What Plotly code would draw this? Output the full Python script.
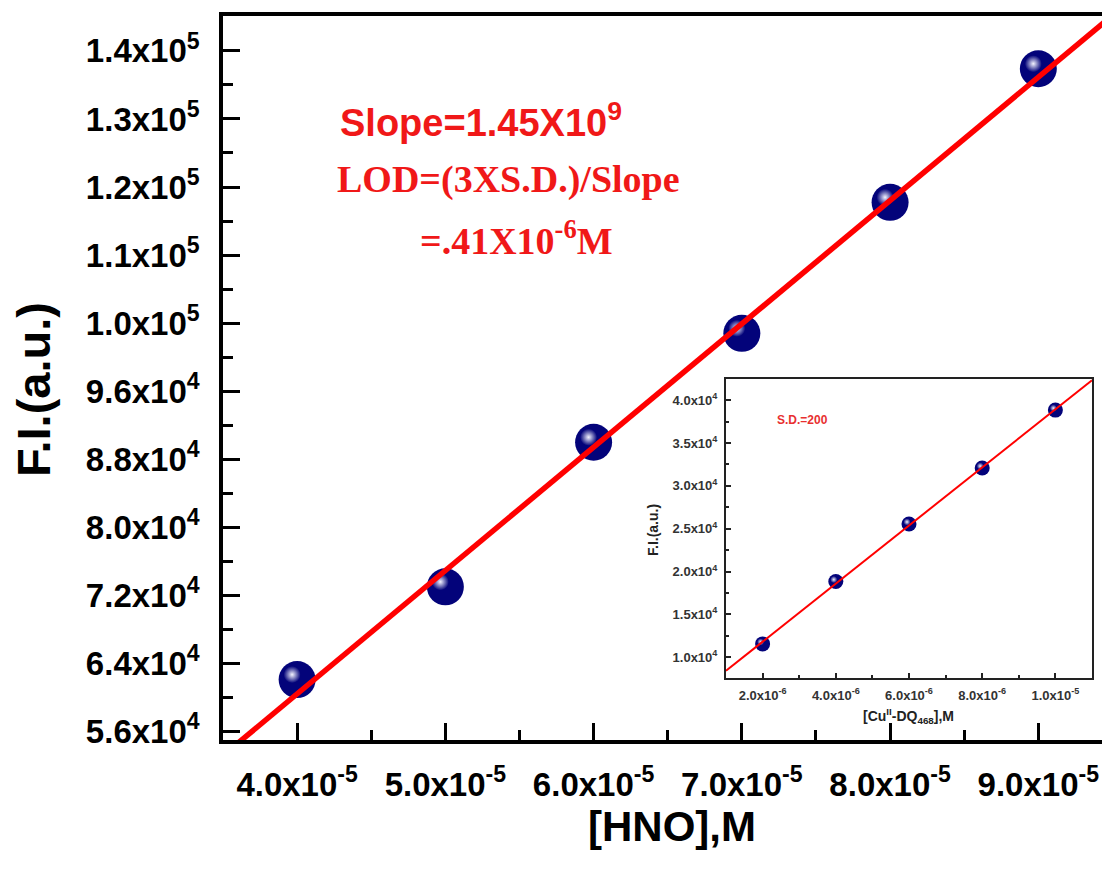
import numpy as np
import plotly.graph_objects as go

# ---------------- data ----------------
hno_conc = [4.0e-5, 5.0e-5, 6.0e-5, 7.0e-5, 8.0e-5, 9.0e-5]
fi_main = [62100, 73000, 90000, 102800, 118200, 133900]

x_tickvals = [4.0e-5, 5.0e-5, 6.0e-5, 7.0e-5, 8.0e-5, 9.0e-5]
x_ticktext = ["4.0x10<sup>-5</sup>", "5.0x10<sup>-5</sup>", "6.0x10<sup>-5</sup>",
              "7.0x10<sup>-5</sup>", "8.0x10<sup>-5</sup>", "9.0x10<sup>-5</sup>"]
y_tickvals = [56000, 64000, 72000, 80000, 88000, 96000, 104000, 112000, 120000, 128000, 136000]
y_ticktext = ["5.6x10<sup>4</sup>", "6.4x10<sup>4</sup>", "7.2x10<sup>4</sup>", "8.0x10<sup>4</sup>",
              "8.8x10<sup>4</sup>", "9.6x10<sup>4</sup>", "1.0x10<sup>5</sup>", "1.1x10<sup>5</sup>",
              "1.2x10<sup>5</sup>", "1.3x10<sup>5</sup>", "1.4x10<sup>5</sup>"]

cu_conc = [2.0e-6, 4.0e-6, 6.0e-6, 8.0e-6, 1.0e-5]
fi_inset = [11560, 18830, 25550, 32070, 38830]

ix_tickvals = [2.0e-6, 4.0e-6, 6.0e-6, 8.0e-6, 1.0e-5]
ix_ticktext = ["2.0x10<sup>-6</sup>", "4.0x10<sup>-6</sup>", "6.0x10<sup>-6</sup>",
               "8.0x10<sup>-6</sup>", "1.0x10<sup>-5</sup>"]
iy_tickvals = [10000, 15000, 20000, 25000, 30000, 35000, 40000]
iy_ticktext = ["1.0x10<sup>4</sup>", "1.5x10<sup>4</sup>", "2.0x10<sup>4</sup>", "2.5x10<sup>4</sup>",
               "3.0x10<sup>4</sup>", "3.5x10<sup>4</sup>", "4.0x10<sup>4</sup>"]

# ---------------- layout constants ----------------
OFF = 8                      # page body margin of the html page
W, H = 1110 - OFF, 870 - OFF
PL, PT, PR, PB = 223, 16, 1108, 740      # plot area in page pixels
ML, MT = PL - OFF, PT - OFF
PW, PH = PR - PL, PB - PT
MR, MB = W - ML - PW, H - MT - PH

def px(xp):   # page pixel -> paper x
    return (xp - PL) / PW

def py(yp):   # page pixel -> paper y
    return (PB - yp) / PH

x_range = [3.5e-5, 9.47e-5]
y_range = [55000, 140100]
ix_range = [1.0e-6, 1.1e-5]
iy_range = [7580, 42460]

IL, IR, IT, IB = 726, 1092, 379, 678     # inset area in page pixels

NAVY = "#03037A"
RED = "#FF0000"
TXT_RED = "#F01818"
SANS = "Liberation Sans, Arial, sans-serif"
SERIF = "Liberation Serif, Times New Roman, serif"

# fits
m_main, b_main = np.polyfit(hno_conc, fi_main, 1)
m_ins, b_ins = np.polyfit(cu_conc, fi_inset, 1)
fit_x_main = np.array(x_range)
fit_x_ins = np.array(ix_range)

# highlight offsets (pixel -> data units)
def offs(xr, yr, pw, ph, dxp, dyp):
    return dxp * (xr[1] - xr[0]) / pw, dyp * (yr[1] - yr[0]) / ph

dxm, dym = offs(x_range, y_range, PW, PH, -5, 5)
dxi, dyi = offs(ix_range, iy_range, IR - IL, IB - IT, -2, 2)

fig = go.Figure()

fig.add_trace(go.Scatter(x=hno_conc, y=fi_main, mode="markers",
                         marker=dict(size=37, color=NAVY, line=dict(width=0)),
                         xaxis="x", yaxis="y", showlegend=False))
fig.add_trace(go.Scatter(x=[v + dxm for v in hno_conc], y=[v + dym for v in fi_main], mode="markers",
                         marker=dict(size=17, color=NAVY, line=dict(width=0),
                                     gradient=dict(type="radial", color="#F4F4FF")),
                         xaxis="x", yaxis="y", showlegend=False))
fig.add_trace(go.Scatter(x=fit_x_main, y=m_main * fit_x_main + b_main, mode="lines",
                         line=dict(color=RED, width=5.5), xaxis="x", yaxis="y", showlegend=False))

fig.add_trace(go.Scatter(x=cu_conc, y=fi_inset, mode="markers",
                         marker=dict(size=15, color=NAVY, line=dict(width=0)),
                         xaxis="x2", yaxis="y2", showlegend=False))
fig.add_trace(go.Scatter(x=[v + dxi for v in cu_conc], y=[v + dyi for v in fi_inset], mode="markers",
                         marker=dict(size=7, color=NAVY, line=dict(width=0),
                                     gradient=dict(type="radial", color="#F4F4FF")),
                         xaxis="x2", yaxis="y2", showlegend=False))
fig.add_trace(go.Scatter(x=fit_x_ins, y=m_ins * fit_x_ins + b_ins, mode="lines",
                         line=dict(color=RED, width=2), xaxis="x2", yaxis="y2", showlegend=False))

fig.update_layout(
    width=W, height=H,
    margin=dict(l=ML, r=MR, t=MT, b=MB, autoexpand=False),
    paper_bgcolor="white", plot_bgcolor="white",
    xaxis=dict(
        domain=[0, 1], range=x_range, showgrid=False, zeroline=False, automargin=False,
        showline=True, linecolor="black", linewidth=3.5, mirror=True,
        tickmode="array", tickvals=x_tickvals, ticktext=x_ticktext,
        ticks="inside", ticklen=17, tickwidth=3, tickcolor="black",
        minor=dict(ticks="inside", ticklen=10, tickwidth=3, tickcolor="black",
                   tickmode="linear", tick0=4.5e-5, dtick=1e-5),
        tickfont=dict(family=SANS, size=33, color="black", weight="bold"),
        ticklabelstandoff=13,
    ),
    yaxis=dict(
        domain=[0, 1], range=y_range, showgrid=False, zeroline=False, automargin=False,
        showline=True, linecolor="black", linewidth=3.5, mirror=True,
        tickmode="array", tickvals=y_tickvals, ticktext=y_ticktext,
        ticks="inside", ticklen=17, tickwidth=3, tickcolor="black",
        minor=dict(ticks="inside", ticklen=10, tickwidth=3, tickcolor="black",
                   tickmode="linear", tick0=60000, dtick=8000),
        tickfont=dict(family=SANS, size=33, color="black", weight="bold"),
        ticklabelstandoff=13,
    ),
    xaxis2=dict(
        domain=[px(IL), px(IR)], anchor="y2", range=ix_range, showgrid=False, zeroline=False,
        automargin=False,
        showline=True, linecolor="#222", linewidth=2, mirror=True,
        tickmode="array", tickvals=ix_tickvals, ticktext=ix_ticktext,
        ticks="inside", ticklen=5, tickwidth=2, tickcolor="#222",
        minor=dict(ticks="inside", ticklen=3, tickwidth=2, tickcolor="#222",
                   tickmode="linear", tick0=3e-6, dtick=2e-6),
        tickfont=dict(family=SANS, size=13, color="#333", weight="bold"),
        ticklabelstandoff=4,
    ),
    yaxis2=dict(
        domain=[py(IB), py(IT)], anchor="x2", range=iy_range, showgrid=False, zeroline=False,
        automargin=False,
        showline=True, linecolor="#222", linewidth=2, mirror=True,
        tickmode="array", tickvals=iy_tickvals, ticktext=iy_ticktext,
        ticks="inside", ticklen=5, tickwidth=2, tickcolor="#222",
        minor=dict(ticks="inside", ticklen=3, tickwidth=2, tickcolor="#222",
                   tickmode="linear", tick0=12500, dtick=5000),
        tickfont=dict(family=SANS, size=13, color="#333", weight="bold"),
        ticklabelstandoff=4,
    ),
    annotations=[
        # axis titles
        dict(text="<b>[HNO],M</b>", xref="paper", yref="paper", x=px(672), y=py(826),
             xanchor="center", yanchor="middle", showarrow=False,
             font=dict(family=SANS, size=42, color="black")),
        dict(text="<b>F.I.(a.u.)</b>", xref="paper", yref="paper", x=px(33), y=py(390),
             xanchor="center", yanchor="middle", textangle=-90, showarrow=False,
             font=dict(family=SANS, size=47, color="black")),
        dict(text="<b>[Cu<sup>II</sup>-DQ<sub>468</sub>],M</b>", xref="paper", yref="paper",
             x=px(908), y=py(716), xanchor="center", yanchor="middle", showarrow=False,
             font=dict(family=SANS, size=14, color="#222")),
        dict(text="<b>F.I.(a.u.)</b>", xref="paper", yref="paper", x=px(653), y=py(530),
             xanchor="center", yanchor="middle", textangle=-90, showarrow=False,
             font=dict(family=SANS, size=14, color="#222")),
        # texts
        dict(text="<b>Slope=1.45X10<sup>9</sup></b>", xref="paper", yref="paper",
             x=px(338), y=py(120), xanchor="left", yanchor="middle",
             showarrow=False, font=dict(family=SANS, size=38, color=TXT_RED)),
        dict(text="<b>LOD=(3XS.D.)/Slope</b>", xref="paper", yref="paper",
             x=px(508), y=py(180), xanchor="center", yanchor="middle",
             showarrow=False, font=dict(family=SERIF, size=38, color=TXT_RED)),
        dict(text="<b>=.41X10<sup>-6</sup>M</b>", xref="paper", yref="paper",
             x=px(516), y=py(238), xanchor="center", yanchor="middle",
             showarrow=False, font=dict(family=SERIF, size=38, color=TXT_RED)),
        dict(text="<b>S.D.=200</b>", xref="paper", yref="paper",
             x=px(775), y=py(420), xanchor="left", yanchor="middle",
             showarrow=False, font=dict(family=SANS, size=12, color="#E83030")),
    ],
)

fig.write_html("out.html")
